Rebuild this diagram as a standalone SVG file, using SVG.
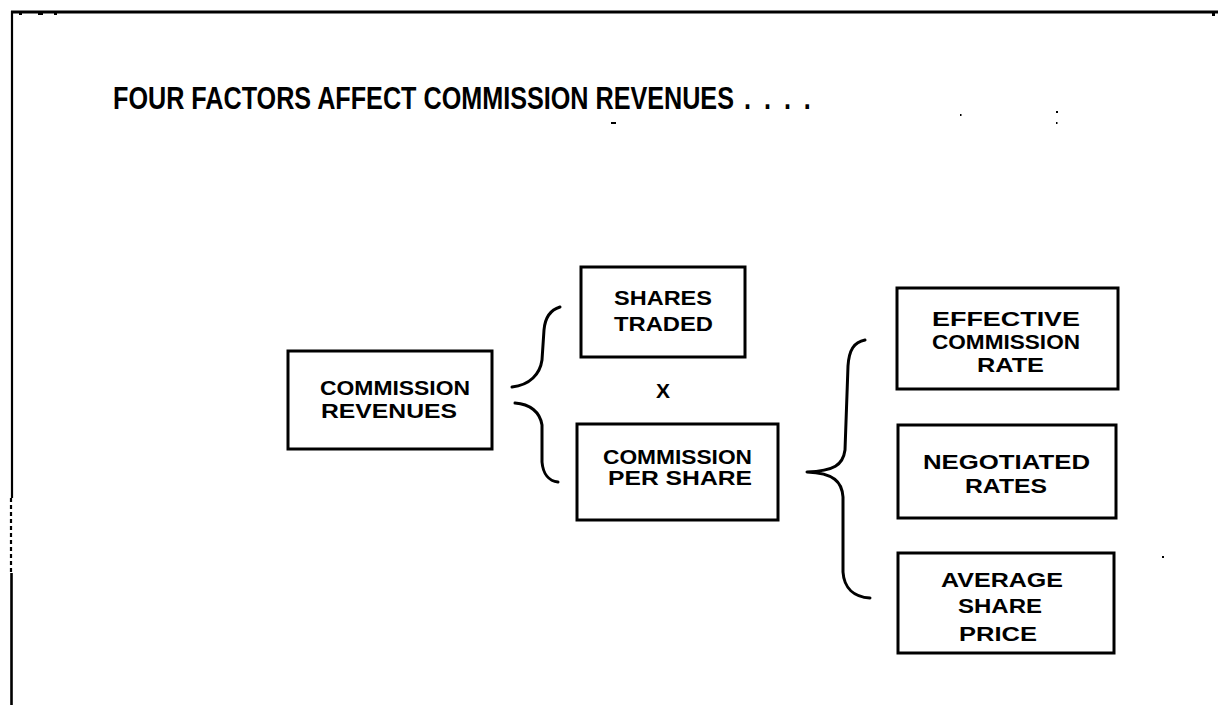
<svg xmlns="http://www.w3.org/2000/svg" width="1218" height="705" viewBox="0 0 1218 705">
<style>
.frame{stroke:#000;fill:none}
.box{fill:#fff;stroke:#000;stroke-width:3}
.lbl{font-family:"Liberation Sans",Arial,Helvetica,sans-serif;font-weight:bold;font-size:21px;fill:#000}
.title{font-family:"Liberation Sans",Arial,Helvetica,sans-serif;font-weight:bold;font-size:32px;fill:#000}
.brace{fill:none;stroke:#000;stroke-width:3;stroke-linecap:round;stroke-linejoin:round}
.speck{fill:#000}
</style>
<rect width="1218" height="705" fill="#fff"/>
<g id="frame">
<line class="frame" x1="11" y1="12" x2="1218" y2="12" stroke-width="3"/>
<line class="frame" x1="12" y1="11" x2="12" y2="498" stroke-width="2.2"/>
<line class="frame" x1="11" y1="498" x2="11" y2="573" stroke-width="2.2" stroke-dasharray="4,3"/>
<line class="frame" x1="11.5" y1="573" x2="11.5" y2="705" stroke-width="2.6"/>
<rect class="speck" x="1212" y="12" width="3" height="4"/>
<rect class="speck" x="19" y="13" width="3" height="2"/>
<rect class="speck" x="38" y="13" width="5" height="2"/>
<rect class="speck" x="54" y="13" width="3" height="2"/>
</g>
<g id="title">
<text class="title" transform="translate(113,109) scale(0.787,1)">FOUR FACTORS AFFECT COMMISSION REVENUES<tspan letter-spacing="3.8"> . . . .</tspan></text>
</g>
<g id="specks">
<rect class="speck" x="611" y="122" width="5" height="2"/>
<rect class="speck" x="960" y="114" width="1.5" height="2"/>
<rect class="speck" x="1056" y="111" width="2" height="2"/>
<rect class="speck" x="1056" y="122" width="1.5" height="2"/>
<rect class="speck" x="949" y="509" width="2" height="2"/>
<rect class="speck" x="1162" y="556" width="2" height="2"/>
</g>
<g id="connectors">
<path class="brace" d="M560,307 C550,310 545,318 544,330 L542,360 C540,374 530,385 512,387"/>
<path class="brace" d="M515,403 C530,404 540,412 542,425 L542,462 C543,474 549,481 558,482"/>
<path class="brace" d="M865,340 C854,342 849,350 848,366 L845,450 C843,465 834,471 807,472 C834,473 842,482 843,497 L843,572 C844,588 854,597 870,598"/>
</g>
<g id="commission-revenues">
<rect class="box" x="288" y="351" width="204" height="98"/>
<text class="lbl" x="320" y="395" font-size="23" textLength="150" lengthAdjust="spacingAndGlyphs">COMMISSION</text>
<text class="lbl" x="321" y="418" font-size="23" textLength="136" lengthAdjust="spacingAndGlyphs">REVENUES</text>
</g>
<g id="shares-traded">
<rect class="box" x="581" y="267" width="164" height="90"/>
<text class="lbl" x="614" y="305" textLength="98" lengthAdjust="spacingAndGlyphs">SHARES</text>
<text class="lbl" x="614" y="331" textLength="99" lengthAdjust="spacingAndGlyphs">TRADED</text>
</g>
<g id="times">
<text class="lbl" x="663" y="398" text-anchor="middle" font-size="20">X</text>
</g>
<g id="commission-per-share">
<rect class="box" x="577" y="424" width="201" height="96"/>
<text class="lbl" x="603" y="464" textLength="149" lengthAdjust="spacingAndGlyphs">COMMISSION</text>
<text class="lbl" x="608" y="485" textLength="144" lengthAdjust="spacingAndGlyphs">PER SHARE</text>
</g>
<g id="effective-commission-rate">
<rect class="box" x="897" y="288" width="221" height="101"/>
<text class="lbl" x="932" y="326" textLength="148" lengthAdjust="spacingAndGlyphs">EFFECTIVE</text>
<text class="lbl" x="932" y="349" textLength="148" lengthAdjust="spacingAndGlyphs">COMMISSION</text>
<text class="lbl" x="977" y="372" textLength="67" lengthAdjust="spacingAndGlyphs">RATE</text>
</g>
<g id="negotiated-rates">
<rect class="box" x="898" y="425" width="218" height="93"/>
<text class="lbl" x="923" y="469" textLength="167" lengthAdjust="spacingAndGlyphs">NEGOTIATED</text>
<text class="lbl" x="965" y="493" textLength="82" lengthAdjust="spacingAndGlyphs">RATES</text>
</g>
<g id="average-share-price">
<rect class="box" x="898" y="553" width="216" height="100"/>
<text class="lbl" x="941" y="587" textLength="122" lengthAdjust="spacingAndGlyphs">AVERAGE</text>
<text class="lbl" x="958" y="613" textLength="84" lengthAdjust="spacingAndGlyphs">SHARE</text>
<text class="lbl" x="959" y="641" textLength="78" lengthAdjust="spacingAndGlyphs">PRICE</text>
</g>
</svg>
